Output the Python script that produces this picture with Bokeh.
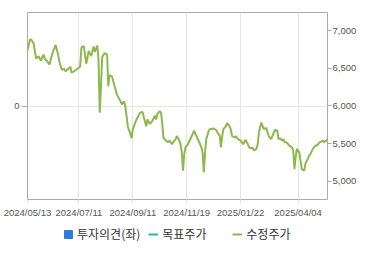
from bokeh.plotting import figure
from bokeh.layouts import column
from bokeh.models import (Range1d, LinearAxis, FixedTicker, NumeralTickFormatter,
                          Legend, LegendItem, Grid)
from bokeh.embed import file_html
from bokeh.resources import INLINE

NAN = float("nan")

# ---- data ----
trade_day_index = [0, 2, 3, 5, 7, 9, 11, 13, 14, 16, 18, 20, 23, 25, 26, 28, 30, 31, 34, 35,
                   36, 38, 43, 44, 45, 46, 48, 50, 52, 54, 55, 57, 58, 59, 60, 61, 63, 65, 66, 67,
                   69, 71, 73, 76, 77, 79, 80, 82, 84, 85, 86, 89, 91, 92, 94, 95, 97, 98, 100, 102,
                   104, 105, 106, 108, 109, 110, 111, 113, 115, 116, 118, 119, 121, 122, 124, 125, 126, 127, 128, 129,
                   131, 133, 135, 136, 138, 139, 141, 142, 143, 144, 145, 146, 148, 149, 152, 154, 155, 157, 158, 159,
                   160, 162, 163, 165, 166, 167, 169, 170, 172, 174, 176, 177, 178, 180, 181, 182, 184, 185, 187, 188,
                   189, 191, 192, 193, 195, 196, 197, 199, 200, 202, 204, 205, 206, 208, 209, 210, 212, 213, 214, 216,
                   217, 218, 219, 220, 222, 223, 224, 226, 227, 229, 230, 231, 233, 235, 237, 238, 239, 241, 242, 244,
                   245]
adj_price = [6740, 6880, 6880, 6830, 6630, 6660, 6600, 6680, 6630, 6590, 6550, 6680, 6810, 6680, 6590, 6480, 6490, 6460, 6500, 6520,
             6440, 6460, 6520, 6770, 6790, 6790, 6560, 6730, 6660, 6790, 6720, 6800, 6610, 5910, 6260, 6650, 6700, 6680, 6260, 6410,
             6390, 6270, 6150, 6060, 6020, 6060, 5980, 5720, 5630, 5570, 5690, 5820, 5880, 5910, 5920, 5850, 5730, 5820, 5760, 5800,
             5870, 5820, 5890, 5930, 5910, 5780, 5580, 5540, 5520, 5540, 5490, 5520, 5560, 5600, 5540, 5490, 5380, 5140, 5360, 5450,
             5490, 5560, 5630, 5670, 5600, 5560, 5490, 5450, 5380, 5120, 5380, 5560, 5670, 5690, 5700, 5680, 5650, 5600, 5450, 5600,
             5690, 5730, 5770, 5730, 5690, 5600, 5580, 5600, 5560, 5540, 5490, 5520, 5550, 5490, 5450, 5440, 5440, 5410, 5430, 5490,
             5650, 5780, 5730, 5690, 5710, 5650, 5600, 5560, 5600, 5680, 5670, 5560, 5570, 5540, 5560, 5520, 5510, 5490, 5470, 5450,
             5410, 5160, 5320, 5430, 5380, 5270, 5160, 5140, 5230, 5300, 5340, 5360, 5430, 5470, 5480, 5510, 5520, 5540, 5520, 5540,
             5560]
invest_opinion = [NAN]   # no opinion data shown
target_price = [NAN]     # no target price shown
x_tick_index = [0, 42, 86, 130, 174, 221]
x_tick_labels = ["2024/05/13", "2024/07/11", "2024/09/11", "2024/11/19", "2025/01/22", "2025/04/04"]
price_ticks = [5000, 5500, 6000, 6500, 7000]
opinion_ticks = [0]
series_names = ["투자의견(좌)", "목표주가", "수정주가"]

TICK_FONT = "Liberation Sans"
GRAY = "#aaaaaa"
C_OP, C_TG, C_PX = "#2e7bd8", "#2bb3b8", "#8db84e"

p = figure(width=370, height=220, output_backend="svg", toolbar_location=None,
           x_range=Range1d(0, 245), y_range=Range1d(4757, 7240),
           y_axis_location="right",
           min_border_left=27, min_border_right=43, min_border_top=12, min_border_bottom=19)
p.outline_line_color = GRAY
p.border_fill_color = "white"
p.extra_y_ranges = {"opinion": Range1d(-1, 1)}

# right (price) axis
ra = p.yaxis[0]
ra.ticker = FixedTicker(ticks=price_ticks)
ra.formatter = NumeralTickFormatter(format="0,0")
ra.axis_line_color = None
ra.major_tick_out = 4
ra.major_tick_in = 0
ra.minor_tick_line_color = None
ra.major_tick_line_color = GRAY
ra.major_label_standoff = 1
ra.major_label_text_font = TICK_FONT
ra.major_label_text_font_size = "9.5px"
ra.major_label_text_color = "#555555"

# left (opinion) axis
la = LinearAxis(y_range_name="opinion", ticker=FixedTicker(ticks=opinion_ticks))
la.axis_line_color = None
la.major_tick_out = 6
la.major_tick_in = 0
la.minor_tick_line_color = None
la.major_tick_line_color = GRAY
la.major_label_standoff = 2
la.major_label_text_font = TICK_FONT
la.major_label_text_font_size = "9.5px"
la.major_label_text_color = "#555555"
p.add_layout(la, "left")

# x axis
xa = p.xaxis[0]
xa.ticker = FixedTicker(ticks=x_tick_index)
xa.major_label_overrides = {i: s for i, s in zip(x_tick_index, x_tick_labels)}
xa.axis_line_color = None
xa.major_tick_out = 4
xa.major_tick_in = 0
xa.minor_tick_line_color = None
xa.major_tick_line_color = "#e3e3e3"
xa.major_label_standoff = 3
xa.major_label_text_font = TICK_FONT
xa.major_label_text_font_size = "9.5px"
xa.major_label_text_color = "#555555"

# grids
p.xgrid.grid_line_color = "#e6e6e6"
p.ygrid.grid_line_color = None
p.add_layout(Grid(dimension=1, ticker=la.ticker, y_range_name="opinion", grid_line_color="#e6e6e6"))

# series
p.vbar(x=[0], top=invest_opinion, width=1, color=C_OP, y_range_name="opinion")
p.line(x=[0], y=target_price, line_color=C_TG, line_width=2)
p.line(trade_day_index, adj_price, line_color=C_PX, line_width=2)

# legend strip
lg = figure(width=370, height=35, output_backend="svg", toolbar_location=None,
            x_range=Range1d(0, 1), y_range=Range1d(0, 1),
            x_axis_type=None, y_axis_type=None,
            min_border_left=0, min_border_right=0, min_border_top=0, min_border_bottom=0)
lg.outline_line_color = None
lg.grid.visible = False
l_op = lg.vbar(x=[0], top=invest_opinion, width=1, color=C_OP)
l_tg = lg.line(x=[0], y=target_price, line_color=C_TG, line_width=2)
l_px = lg.line(x=[0], y=target_price, line_color=C_PX, line_width=2)

legend = Legend(items=[LegendItem(label=series_names[0], renderers=[l_op]),
                       LegendItem(label=series_names[1], renderers=[l_tg]),
                       LegendItem(label=series_names[2], renderers=[l_px])],
                orientation="horizontal", location=(36, 13),
                padding=0, margin=0, spacing=8,
                glyph_width=10, glyph_height=10, label_standoff=4,
                label_width=62, label_height=12,
                label_text_font="Noto Sans CJK KR", label_text_font_size="12px",
                label_text_color="#333333",
                border_line_color=None, background_fill_alpha=0)
lg.add_layout(legend, "center")

layout = column(p, lg, spacing=0)
open("out.html", "w").write(file_html(layout, INLINE))
